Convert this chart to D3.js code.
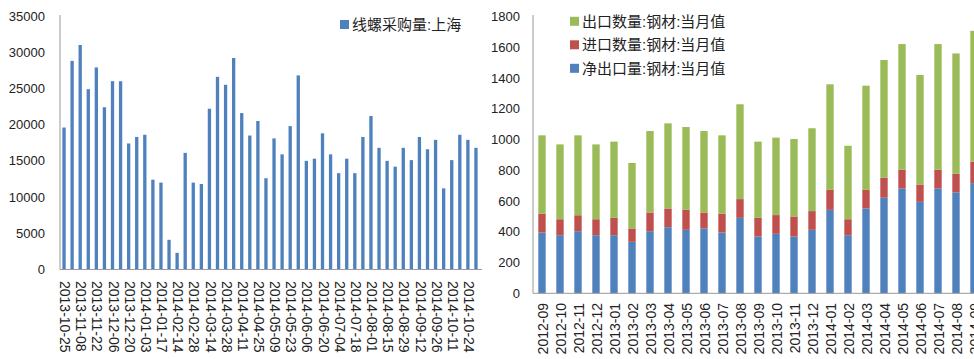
<!DOCTYPE html>
<html>
<head>
<meta charset="utf-8">
<script src="https://cdn.jsdelivr.net/npm/d3@7"></script>
<style>
  body { margin: 0; background: #fff; }
  svg { display: block; font-family: "Liberation Sans", Arial, "Noto Sans CJK SC", sans-serif; }
</style>
</head>
<body>
<svg id="chart" width="974" height="359"></svg>
<script>
// left chart: weekly purchase volume, Shanghai
const weekDates = [
  "2013-10-25","2013-11-01","2013-11-08","2013-11-15","2013-11-22","2013-11-29","2013-12-06","2013-12-13",
  "2013-12-20","2013-12-27","2014-01-03","2014-01-10","2014-01-17","2014-01-24","2014-02-14","2014-02-21",
  "2014-02-28","2014-03-07","2014-03-14","2014-03-21","2014-03-28","2014-04-04","2014-04-11","2014-04-18",
  "2014-04-25","2014-05-02","2014-05-09","2014-05-16","2014-05-23","2014-05-30","2014-06-06","2014-06-13",
  "2014-06-20","2014-06-27","2014-07-04","2014-07-11","2014-07-18","2014-07-25","2014-08-01","2014-08-08",
  "2014-08-15","2014-08-22","2014-08-29","2014-09-05","2014-09-12","2014-09-19","2014-09-26","2014-09-30",
  "2014-10-11","2014-10-17","2014-10-24","2014-10-31"
];
const purchase = [
  19600,28800,31000,24900,27900,22400,26000,26000,17400,18300,18600,12400,12000,4100,2300,16100,
  12000,11800,22200,26600,25500,29200,21600,18500,20500,12600,18100,15900,19800,26800,15000,15300,
  18800,15900,13300,15300,13300,18300,21200,16800,15000,14200,16800,15100,18300,16600,17900,11200,
  15100,18600,17900,16800
];
const leftSeries = "线螺采购量:上海";
const leftTicks = [0,5000,10000,15000,20000,25000,30000,35000];

// right chart: monthly steel trade
const months = [
  "2012-09","2012-10","2012-11","2012-12","2013-01","2013-02","2013-03","2013-04","2013-05",
  "2013-06","2013-07","2013-08","2013-09","2013-10","2013-11","2013-12","2014-01","2014-02",
  "2014-03","2014-04","2014-05","2014-06","2014-07","2014-08","2014-09"
];
const netExport = [396,378,404,378,378,335,404,430,413,422,396,491,370,387,370,413,543,378,552,622,683,595,683,657,717];
const imports   = [121,104,104,104,113, 87,122,122,130,104,121,122,121,122,130,122,130,104,121,130,121,113,121,121,139];
const exports   = [511,487,520,487,496,426,530,554,539,530,511,617,496,504,504,539,687,478,678,766,818,713,818,783,852];
const rightSeries = ["净出口量:钢材:当月值","进口数量:钢材:当月值","出口数量:钢材:当月值"];
const rightTicks = [0,200,400,600,800,1000,1200,1400,1600,1800];

const colors = ["#4F81BD","#C0504D","#9BBB59"];
const svg = d3.select("#chart");

//////////////// left bar chart ////////////////
const xL = d3.scaleBand().domain(weekDates).range([60, 480]).paddingInner(0.59).paddingOuter(0.295);
const yL = d3.scaleLinear().domain([0, 35000]).range([269.5, 16]);

svg.append("g").selectAll("rect")
  .data(purchase)
  .enter()
  .append("rect")
  .attr("x", (d, i) => xL(weekDates[i]))
  .attr("y", d => yL(d))
  .attr("width", xL.bandwidth())
  .attr("height", d => yL(0) - yL(d))
  .attr("fill", colors[0]);

// axes lines
svg.append("line").attr("x1", 60).attr("x2", 60).attr("y1", 15).attr("y2", 269.5).attr("stroke", "#999");
svg.append("line").attr("x1", 60).attr("x2", 482).attr("y1", 269.5).attr("y2", 269.5).attr("stroke", "#999");

svg.append("g").selectAll("text")
  .data(leftTicks)
  .enter()
  .append("text")
  .attr("x", 45)
  .attr("y", d => yL(d))
  .attr("dy", "0.35em")
  .attr("text-anchor", "end")
  .attr("font-size", 13)
  .attr("fill", "#222")
  .text(d => d);

svg.append("g").selectAll("text")
  .data(weekDates.filter((d, i) => i % 2 === 0))
  .enter()
  .append("text")
  .attr("transform", d => `translate(${xL(d) + xL.bandwidth() / 2 + 1}, 281) rotate(90)`)
  .attr("dy", "0.35em")
  .attr("font-size", 14)
  .attr("fill", "#222")
  .text(d => d);

// left legend
svg.append("rect").attr("x", 340).attr("y", 20).attr("width", 9).attr("height", 9).attr("fill", colors[0]);
svg.append("text").attr("x", 352).attr("y", 25).attr("dy", "0.35em")
  .attr("font-size", 15).attr("fill", "#222").text(leftSeries);

//////////////// right stacked chart ////////////////
const rows = months.map((m, i) => ({ month: m, net: netExport[i], imp: imports[i], exp: exports[i] }));
const stack = d3.stack().keys(["net", "imp", "exp"]);
const layers = stack(rows);

const xR = d3.scaleBand().domain(months).range([533, 983]).paddingInner(0.59).paddingOuter(0.295);
const yR = d3.scaleLinear().domain([0, 1800]).range([293.3, 16.7]);

svg.append("g").selectAll("g")
  .data(layers)
  .enter()
  .append("g")
  .attr("fill", (d, i) => colors[i])
  .selectAll("rect")
  .data(d => d)
  .enter()
  .append("rect")
  .attr("x", d => xR(d.data.month))
  .attr("y", d => yR(d[1]))
  .attr("width", xR.bandwidth())
  .attr("height", d => yR(d[0]) - yR(d[1]));

svg.append("line").attr("x1", 533).attr("x2", 533).attr("y1", 15).attr("y2", 293.3).attr("stroke", "#999");
svg.append("line").attr("x1", 533).attr("x2", 974).attr("y1", 293.3).attr("y2", 293.3).attr("stroke", "#999");

svg.append("g").selectAll("text")
  .data(rightTicks)
  .enter()
  .append("text")
  .attr("x", 520)
  .attr("y", d => yR(d))
  .attr("dy", "0.35em")
  .attr("text-anchor", "end")
  .attr("font-size", 13)
  .attr("fill", "#222")
  .text(d => d);

svg.append("g").selectAll("text")
  .data(months)
  .enter()
  .append("text")
  .attr("transform", d => `translate(${xR(d) + xR.bandwidth() / 2 + 1}, 303) rotate(-90)`)
  .attr("dy", "0.35em")
  .attr("text-anchor", "end")
  .attr("font-size", 14)
  .attr("fill", "#222")
  .text(d => d);

// right legend, export on top
const legendOrder = [2, 1, 0];
const legend = svg.append("g").selectAll("g")
  .data(legendOrder)
  .enter()
  .append("g")
  .attr("transform", (d, i) => `translate(570, ${21.3 + i * 23.5})`);
legend.append("rect").attr("x", 0).attr("y", -4.5).attr("width", 9).attr("height", 9).attr("fill", d => colors[d]);
legend.append("text").attr("x", 12).attr("dy", "0.35em").attr("font-size", 15).attr("fill", "#222")
  .text(d => rightSeries[d]);
</script>
</body>
</html>
